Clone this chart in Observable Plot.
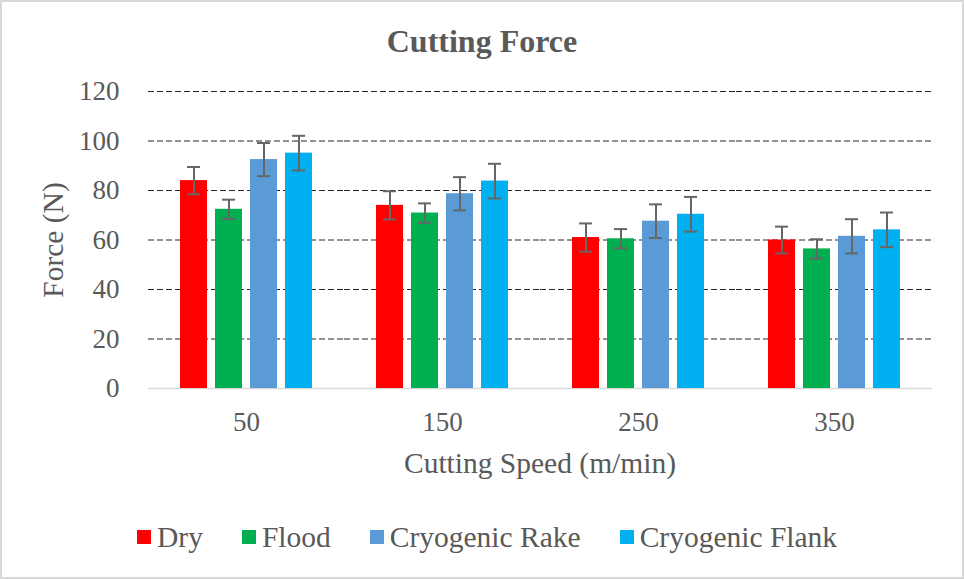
<!DOCTYPE html>
<html>
<head>
<meta charset="utf-8">
<script src="https://cdn.jsdelivr.net/npm/d3@7"></script>
<script src="https://cdn.jsdelivr.net/npm/@observablehq/plot@0.6"></script>
<style>
  html, body { margin: 0; padding: 0; background: #fff; }
  #wrap { position: relative; width: 964px; height: 579px; overflow: hidden; background: #fff;
          font-family: "Liberation Serif", "Times New Roman", serif; color: #595959; }
  #frame { position: absolute; left: 0; top: 0; width: 964px; height: 579px; box-sizing: border-box;
           border: 2px solid #d9d9d9; pointer-events: none; }
  #title { position: absolute; left: 0; top: 25px; width: 964px; text-align: center;
           font-weight: bold; font-size: 32px; line-height: 32px; }
  #chart { position: absolute; left: 0; top: 60px; }
  #ylabel { position: absolute; left: -47px; top: 226px; width: 200px; height: 28px; line-height: 28px;
            text-align: center; font-size: 29.5px; transform: rotate(-90deg); transform-origin: 50% 50%; }
  #xlabel { position: absolute; left: 147px; top: 449px; width: 786px; height: 28px; line-height: 28px;
            text-align: center; font-size: 29.5px; }
  #legend { position: absolute; left: 137px; top: 523px; height: 28px; display: flex; align-items: center;
            gap: 39px; font-size: 29.5px; line-height: 28px; }
  .item { display: flex; align-items: center; gap: 6px; }
  .sw { width: 14px; height: 14px; display: inline-block; }
</style>
</head>
<body>
<div id="wrap">
  <div id="title">Cutting Force</div>
  <div id="chart"></div>
  <div id="ylabel">Force (N)</div>
  <div id="xlabel">Cutting Speed (m/min)</div>
  <div id="legend"></div>
  <div id="frame"></div>
</div>
<script>
const speeds = ["50", "150", "250", "350"];
const series = ["Dry", "Flood", "Cryogenic Rake", "Cryogenic Flank"];
const colors = ["#FF0000", "#00B050", "#5B9BD5", "#00B0F0"];
const yTicks = [0, 20, 40, 60, 80, 100, 120];

const dry = [84, 74, 61, 60];
const dryErr = [5.5, 5.7, 5.7, 5.4];
const flood = [72.4, 70.9, 60.5, 56.4];
const floodErr = [3.9, 3.9, 3.9, 3.9];
const cryoRake = [92.5, 78.7, 67.6, 61.5];
const cryoRakeErr = [6.7, 6.7, 6.8, 6.9];
const cryoFlank = [95.1, 83.8, 70.4, 64.1];
const cryoFlankErr = [7, 7, 7, 7];

const values = [dry, flood, cryoRake, cryoFlank];
const errors = [dryErr, floodErr, cryoRakeErr, cryoFlankErr];

const rows = [];
series.forEach((s, i) => speeds.forEach((sp, j) => rows.push({
  speed: sp, series: s, value: values[i][j], err: errors[i][j]
})));

const errColor = "#666666";
const chart = Plot.plot({
  width: 964,
  height: 400,
  marginTop: 31,
  marginBottom: 72,
  marginLeft: 147,
  marginRight: 31,
  style: { fontFamily: "'Liberation Serif', 'Times New Roman', serif", fontSize: "27px", color: "#595959", background: "transparent", overflow: "visible" },
  fx: { domain: speeds, padding: 0, label: null, axis: "bottom", tickSize: 0, tickPadding: 23 },
  x: { domain: series, paddingInner: 0.225, paddingOuter: 0.88, axis: null },
  y: { domain: [0, 120], ticks: yTicks, label: null, tickSize: 0, tickPadding: 29 },
  color: { domain: series, range: colors },
  marks: [
    Plot.ruleY(yTicks.filter(d => d > 0), { stroke: "#262626", strokeWidth: 1.2, strokeDasharray: "6,3" }),
    Plot.ruleY([0], { stroke: "#d9d9d9", strokeWidth: 1.5 }),
    Plot.barY(rows, { fx: "speed", x: "series", y: "value", fill: "series" }),
    Plot.ruleX(rows, { fx: "speed", x: "series", y1: d => d.value - d.err, y2: d => d.value + d.err, stroke: errColor, strokeWidth: 2 }),
    Plot.tickY(rows, { fx: "speed", x: "series", y: d => d.value + d.err, stroke: errColor, strokeWidth: 2, inset: 7 }),
    Plot.tickY(rows, { fx: "speed", x: "series", y: d => d.value - d.err, stroke: errColor, strokeWidth: 2, inset: 7 })
  ]
});
document.getElementById("chart").appendChild(chart);

const legend = document.getElementById("legend");
series.forEach((s, i) => {
  const it = document.createElement("div");
  it.className = "item";
  const sw = document.createElement("span");
  sw.className = "sw";
  sw.style.background = colors[i];
  const t = document.createElement("span");
  t.textContent = s;
  it.appendChild(sw);
  it.appendChild(t);
  legend.appendChild(it);
});
</script>
</body>
</html>
